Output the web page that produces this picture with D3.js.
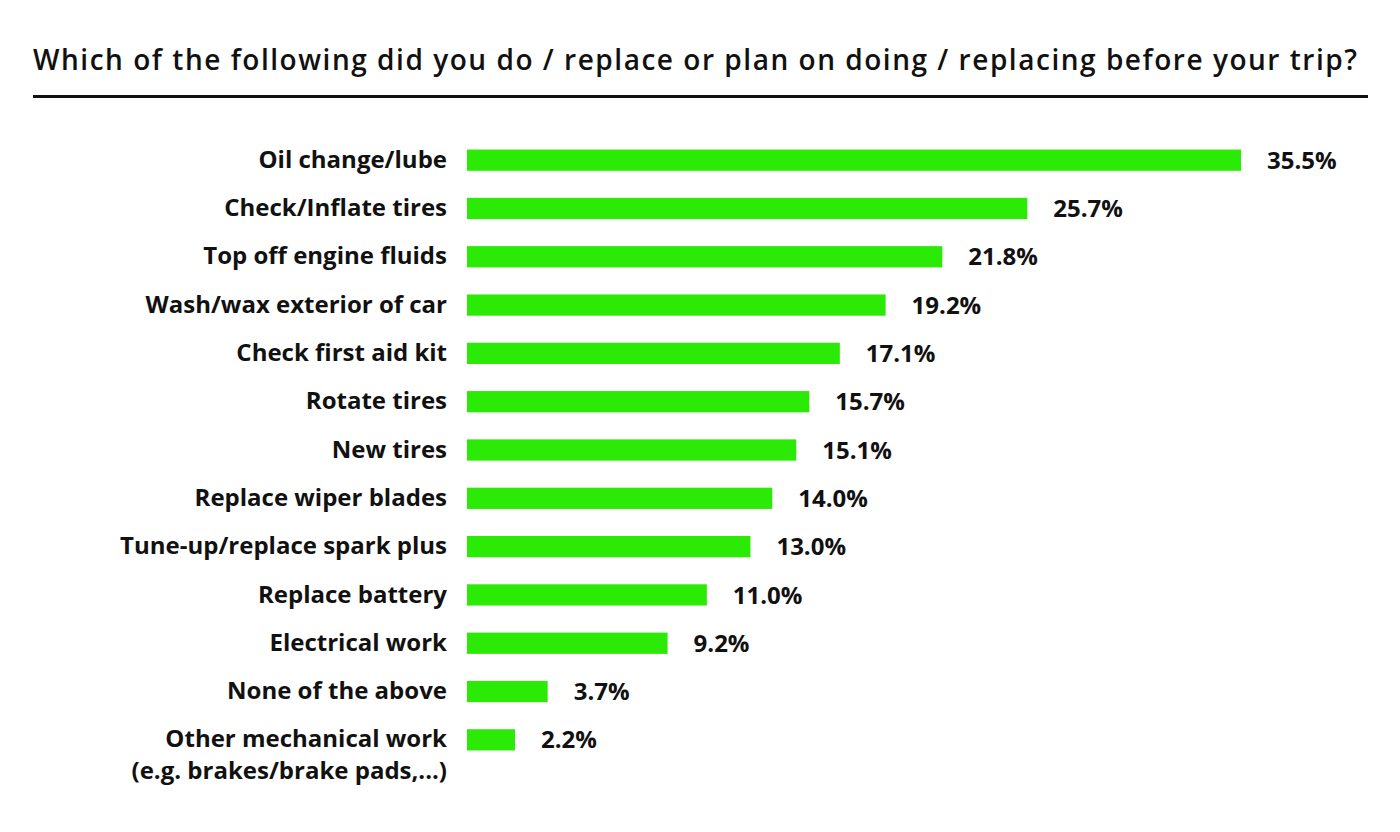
<!DOCTYPE html>
<html><head><meta charset="utf-8">
<script src="https://cdn.jsdelivr.net/npm/d3@7"></script>
<style>body{margin:0;background:#fff;}svg{display:block;}</style>
</head><body>
<svg id="chart" width="1400" height="832"></svg>
<script>
const categories = [
  ["Oil change/lube"],
  ["Check/Inflate tires"],
  ["Top off engine fluids"],
  ["Wash/wax exterior of car"],
  ["Check first aid kit"],
  ["Rotate tires"],
  ["New tires"],
  ["Replace wiper blades"],
  ["Tune-up/replace spark plus"],
  ["Replace battery"],
  ["Electrical work"],
  ["None of the above"],
  ["Other mechanical work", "(e.g. brakes/brake pads,...)"]
];
const values = [35.5, 25.7, 21.8, 19.2, 17.1, 15.7, 15.1, 14.0, 13.0, 11.0, 9.2, 3.7, 2.2];
const valueLabels = ["35.5%","25.7%","21.8%","19.2%","17.1%","15.7%","15.1%","14.0%","13.0%","11.0%","9.2%","3.7%","2.2%"];
const title = "Which of the following did you do / replace or plan on doing / replacing before your trip?";

const svg = d3.select("#chart");
const font = "'Open Sans', 'Noto Sans', sans-serif";
const green = "#2bea06";

svg.append("text").attr("x", 33).attr("y", 70)
  .attr("font-family", font).attr("font-weight", 600).attr("font-size", 28)
  .attr("fill", "#111").attr("textLength", 1324).attr("lengthAdjust", "spacing")
  .text(title);
svg.append("rect").attr("x", 33).attr("y", 95).attr("width", 1335).attr("height", 3).attr("fill", "#111");

const x = d3.scaleLinear().domain([0, 35.5]).range([467, 1241]);
const idx = d3.range(values.length);
const y = d3.scaleBand().domain(idx).range([136, 764]).paddingInner(0.56).paddingOuter(0.28);

const g = svg.append("g");
g.selectAll("rect.bar").data(idx).join("rect").attr("class","bar")
  .attr("x", x(0)).attr("y", i => y(i)).attr("width", i => x(values[i]) - x(0))
  .attr("height", y.bandwidth()).attr("fill", green);

g.selectAll("text.val").data(idx).join("text").attr("class","val")
  .attr("x", i => x(values[i]) + 26).attr("y", i => y(i) + y.bandwidth()/2)
  .attr("dy", "0.36em").attr("font-family", font).attr("font-weight", 700)
  .attr("font-size", 24).attr("fill", "#111").text(i => valueLabels[i]);

const lab = g.selectAll("text.lab").data(idx).join("text").attr("class","lab")
  .attr("x", 447).attr("y", i => y(i) + y.bandwidth()/2 - 1)
  .attr("text-anchor", "end").attr("font-family", font).attr("font-weight", 700)
  .attr("font-size", 24).attr("fill", "#111");
lab.each(function(i){
  const t = d3.select(this);
  categories[i].forEach((line, k) => {
    t.append("tspan").attr("x", 447).attr("dy", k === 0 ? "0.36em" : "1.33em").text(line);
  });
});
</script>
</body></html>
